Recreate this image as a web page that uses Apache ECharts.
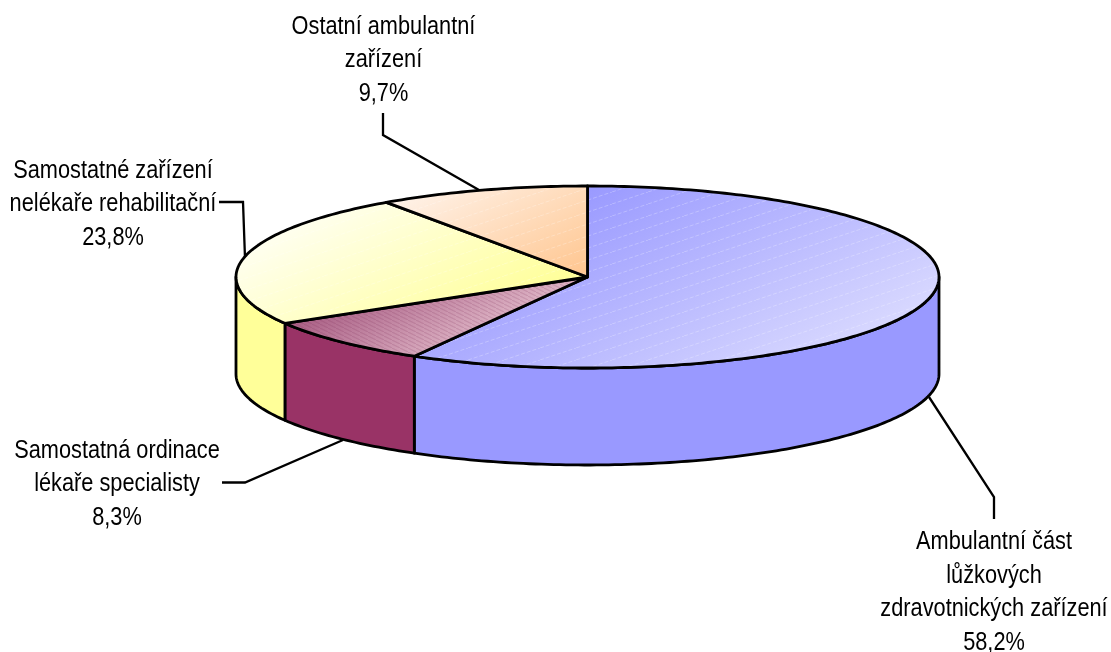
<!DOCTYPE html>
<html>
<head>
<meta charset="utf-8">
<style>
  html, body { margin: 0; padding: 0; background: #fff; }
  #chart { width: 1111px; height: 652px; }
</style>
<script src="https://cdn.jsdelivr.net/npm/echarts@6/dist/echarts.min.js"></script>
</head>
<body>
<div id="chart"></div>
<script>
// hodnoty z grafu, po smeru hodin od 12 hodin
var categories = [
  'Ambulantní část\nlůžkových\nzdravotnických zařízení',
  'Samostatná ordinace\nlékaře specialisty',
  'Samostatné zařízení\nnelékaře rehabilitační',
  'Ostatní ambulantní\nzařízení'
];
var shares = [58.2, 8.3, 23.8, 9.7];

// barvy a popisky zvlast od dat
var sideColors = ['#9999ff', '#993366', '#ffff99', '#ffcc99'];
var topStops = [
  ['#9a9aff', '#d9d9ff'],
  ['#aa5f85', '#e0b8c8'],
  ['#ffffee', '#ffff94'],
  ['#fff2e8', '#ffc48c']
];
var labelBoxes = [
  { x: 994, y: 592.5 },
  { x: 117, y: 484.5 },
  { x: 113, y: 204.5 },
  { x: 383.5, y: 60.5 }
];
var leaderLines = [
  [[929, 397], [994, 497], [994, 519]],
  [[222, 482.5], [245, 482.5], [343, 440]],
  [[219, 202], [243, 202], [245, 258]],
  [[383, 113], [383, 135], [479, 190]]
];

var pie = { cx: 587.5, cy: 277, rx: 351.5, ry: 91, depth: 97 };
var total = shares.reduce(function( a, b ) { return a + b; }, 0);

function sliceAngles( index ) {
  var before = 0, i;
  for( i = 0; i < index; i++ ) {
    before += shares[ i ];
  }
  return [
    echarts.number.linearMap( before, [ 0, total ], [ 0, 360 ] ),
    echarts.number.linearMap( before + shares[ index ], [ 0, total ], [ 0, 360 ] )
  ];
}

// bod na elipse, uhel od 12 hodin po smeru hodin
function rim( deg, drop ) {
  var t = deg * Math.PI / 180;
  return [ pie.cx + pie.rx * Math.sin( t ), pie.cy - pie.ry * Math.cos( t ) + ( drop || 0 ) ];
}

function arc( from, to, drop ) {
  var pts = [], step = to >= from ? 1 : -1, d;
  for( d = from; step > 0 ? d < to : d > to; d += step ) {
    pts.push( rim( d, drop ) );
  }
  pts.push( rim( to, drop ) );
  return pts;
}

function hatch( w, h, draw ) {
  var c = document.createElement( 'canvas' );
  c.width = w;
  c.height = h;
  draw( c.getContext( '2d' ), w, h );
  return { image: c, repeat: 'repeat' };
}

var lightHatch = hatch( 36, 12, function( ctx, w, h ) {
  ctx.strokeStyle = 'rgba(255,255,255,0.25)';
  ctx.lineWidth = 1;
  ctx.setLineDash( [ 4, 2 ] );
  ctx.beginPath();
  ctx.moveTo( 0, h );
  ctx.lineTo( w, 0 );
  ctx.stroke();
} );
var plumHatch = hatch( 8, 4, function( ctx, w, h ) {
  ctx.strokeStyle = 'rgba(120,40,80,0.16)';
  ctx.lineWidth = 1.2;
  ctx.beginPath();
  ctx.moveTo( 0, 0 );
  ctx.lineTo( w, h );
  ctx.stroke();
} );

// gradient shora zleva dolu doprava pres cely vysec
function sliceGradient( points, stops ) {
  var dx = 0.5, dy = 0.87, lo = Infinity, hi = -Infinity;
  points.forEach( function( p ) {
    var d = p[ 0 ] * dx + p[ 1 ] * dy;
    lo = Math.min( lo, d );
    hi = Math.max( hi, d );
  } );
  return new echarts.graphic.LinearGradient(
    lo * dx, lo * dy, hi * dx, hi * dy,
    [ { offset: 0, color: stops[ 0 ] }, { offset: 1, color: stops[ 1 ] } ],
    true
  );
}

function renderWall( params, api ) {
  var a = sliceAngles( api.value( 0 ) );
  var from = Math.max( a[ 0 ], 90 ), to = Math.min( a[ 1 ], 270 );
  if( from >= to ) {
    return { type: 'group', children: [] };
  }
  return {
    type: 'polygon',
    shape: { points: arc( from, to, 0 ).concat( arc( to, from, pie.depth ) ) },
    style: { fill: sideColors[ api.value( 0 ) ], stroke: '#000', lineWidth: 2.8, lineJoin: 'round' }
  };
}

function renderTop( params, api ) {
  var i = api.value( 0 );
  var a = sliceAngles( i );
  var points = [ [ pie.cx, pie.cy ] ].concat( arc( a[ 0 ], a[ 1 ], 0 ) );
  return {
    type: 'group',
    children: [ {
      type: 'polygon',
      shape: { points: points },
      style: { fill: sliceGradient( points, topStops[ i ] ) }
    }, {
      type: 'polygon',
      shape: { points: points },
      style: { fill: i === 1 ? plumHatch : lightHatch, stroke: '#000', lineWidth: 2.8, lineJoin: 'round' }
    } ]
  };
}

function renderLabel( params, api ) {
  var i = api.value( 0 );
  var valueText = shares[ i ].toFixed( 1 ).replace( '.', ',' ) + '%';
  return {
    type: 'group',
    children: [ {
      type: 'polyline',
      shape: { points: leaderLines[ i ] },
      style: { fill: null, stroke: '#000', lineWidth: 2.3 }
    }, {
      type: 'text',
      x: labelBoxes[ i ].x,
      y: labelBoxes[ i ].y,
      scaleX: 0.87,
      style: {
        x: 0,
        y: 0,
        text: categories[ i ] + '\n' + valueText,
        fill: '#000',
        font: '25px "Liberation Sans", Arial, sans-serif',
        lineHeight: 33.7,
        align: 'center',
        verticalAlign: 'middle'
      }
    } ]
  };
}

var seriesData = shares.map( function( v, i ) { return [ i, v ]; } );
var myChart = echarts.init( document.getElementById( 'chart' ) );
myChart.setOption( {
  animation: false,
  backgroundColor: '#fff',
  series: [
    { type: 'custom', coordinateSystem: 'none', z: 1, silent: true, renderItem: renderLabel, data: seriesData },
    { type: 'custom', coordinateSystem: 'none', z: 2, silent: true, renderItem: renderWall, data: seriesData },
    { type: 'custom', coordinateSystem: 'none', z: 3, silent: true, renderItem: renderTop, data: seriesData }
  ]
} );
</script>
</body>
</html>
